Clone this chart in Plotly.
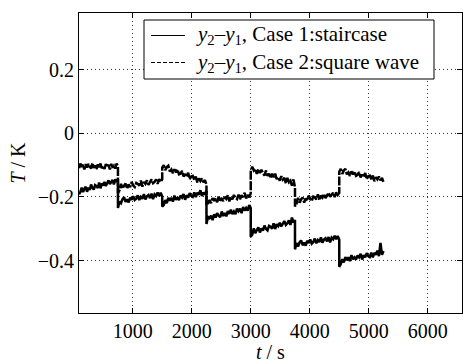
import numpy as np
import plotly.graph_objects as go

# segment boundaries (s)
seg_edges = [90, 750, 1500, 2250, 3000, 3750, 4500, 5250]

# Case 1: staircase (solid), per segment
stair_segments = [
    [-0.192, -0.185, -0.171, -0.185, -0.175, -0.168, -0.184, -0.171, -0.178, -0.161,
     -0.172, -0.177, -0.163, -0.166, -0.172, -0.155, -0.173, -0.158, -0.164, -0.153,
     -0.166, -0.155, -0.148, -0.160, -0.155, -0.147, -0.161, -0.145, -0.153, -0.145],
    [-0.235, -0.215, -0.220, -0.207, -0.201, -0.216, -0.208, -0.217, -0.202, -0.209,
     -0.198, -0.210, -0.206, -0.195, -0.210, -0.200, -0.206, -0.191, -0.208, -0.198,
     -0.194, -0.204, -0.190, -0.207, -0.192, -0.197, -0.186, -0.197, -0.187, -0.199],
    [-0.230, -0.226, -0.210, -0.220, -0.203, -0.212, -0.203, -0.215, -0.196, -0.209,
     -0.203, -0.210, -0.196, -0.202, -0.191, -0.209, -0.195, -0.202, -0.188, -0.197,
     -0.200, -0.186, -0.201, -0.187, -0.193, -0.179, -0.197, -0.186, -0.193, -0.181],
    [-0.285, -0.263, -0.267, -0.259, -0.273, -0.255, -0.265, -0.251, -0.259, -0.264,
     -0.246, -0.260, -0.251, -0.261, -0.245, -0.253, -0.240, -0.254, -0.246, -0.254,
     -0.237, -0.245, -0.237, -0.251, -0.232, -0.243, -0.235, -0.243, -0.226, -0.235],
    [-0.325, -0.319, -0.299, -0.314, -0.304, -0.296, -0.312, -0.299, -0.306, -0.290,
     -0.300, -0.305, -0.291, -0.294, -0.300, -0.283, -0.301, -0.286, -0.292, -0.281,
     -0.293, -0.283, -0.276, -0.288, -0.283, -0.274, -0.288, -0.265, -0.281, -0.273],
    [-0.365, -0.345, -0.356, -0.343, -0.337, -0.352, -0.344, -0.353, -0.338, -0.345,
     -0.334, -0.347, -0.342, -0.331, -0.346, -0.336, -0.342, -0.327, -0.344, -0.334,
     -0.330, -0.340, -0.326, -0.343, -0.328, -0.333, -0.322, -0.333, -0.323, -0.335],
    [-0.420, -0.411, -0.396, -0.406, -0.389, -0.399, -0.390, -0.402, -0.383, -0.396,
     -0.390, -0.397, -0.384, -0.390, -0.379, -0.397, -0.383, -0.390, -0.377, -0.386,
     -0.389, -0.375, -0.390, -0.376, -0.382, -0.369, -0.386, -0.345, -0.382, -0.370],
]

# Case 2: square wave (dashed)
square_segments = [
    [-0.110, -0.095, -0.106, -0.099, -0.114, -0.097, -0.108, -0.096, -0.105, -0.111,
     -0.094, -0.109, -0.101, -0.113, -0.098, -0.107, -0.095, -0.110, -0.103, -0.112,
     -0.097, -0.106, -0.099, -0.114, -0.096, -0.108, -0.102, -0.111, -0.095, -0.105],
    [-0.188, -0.179, -0.159, -0.174, -0.165, -0.158, -0.174, -0.161, -0.169, -0.153,
     -0.164, -0.169, -0.156, -0.159, -0.165, -0.149, -0.168, -0.153, -0.159, -0.148,
     -0.162, -0.152, -0.145, -0.157, -0.153, -0.145, -0.159, -0.144, -0.153, -0.145],
    [-0.108, -0.100, -0.116, -0.106, -0.102, -0.120, -0.114, -0.126, -0.113, -0.123,
     -0.114, -0.129, -0.127, -0.118, -0.136, -0.128, -0.137, -0.124, -0.144, -0.136,
     -0.134, -0.147, -0.136, -0.155, -0.142, -0.150, -0.142, -0.154, -0.147, -0.162],
    [-0.225, -0.221, -0.210, -0.220, -0.204, -0.213, -0.204, -0.217, -0.198, -0.212,
     -0.206, -0.213, -0.200, -0.206, -0.195, -0.214, -0.200, -0.208, -0.194, -0.203,
     -0.207, -0.193, -0.208, -0.195, -0.201, -0.187, -0.205, -0.194, -0.201, -0.189],
    [-0.118, -0.105, -0.117, -0.112, -0.128, -0.113, -0.125, -0.115, -0.125, -0.133,
     -0.117, -0.134, -0.127, -0.141, -0.127, -0.138, -0.127, -0.144, -0.138, -0.149,
     -0.135, -0.146, -0.140, -0.157, -0.140, -0.154, -0.149, -0.165, -0.145, -0.170],
    [-0.230, -0.222, -0.203, -0.218, -0.208, -0.202, -0.218, -0.205, -0.212, -0.196,
     -0.207, -0.213, -0.199, -0.202, -0.208, -0.192, -0.210, -0.196, -0.202, -0.191,
     -0.204, -0.194, -0.187, -0.200, -0.195, -0.187, -0.201, -0.186, -0.194, -0.187],
    [-0.121, -0.112, -0.128, -0.117, -0.112, -0.129, -0.123, -0.134, -0.120, -0.129,
     -0.120, -0.134, -0.131, -0.122, -0.139, -0.130, -0.138, -0.125, -0.144, -0.135,
     -0.133, -0.145, -0.133, -0.151, -0.138, -0.145, -0.136, -0.148, -0.140, -0.154],
]

x_ticks = [1000, 2000, 3000, 4000, 5000, 6000]
y_ticks = [-0.4, -0.2, 0, 0.2]

legend_labels = [
    "<i>y</i><sub>2</sub>–<i>y</i><sub>1</sub>, Case 1:staircase",
    "<i>y</i><sub>2</sub>–<i>y</i><sub>1</sub>, Case 2:square wave",
]
x_title = "<i>t</i> / s"
y_title = "<i>T</i> / K"


def build(segments):
    ts, vs = [], []
    for i, seg in enumerate(segments):
        s, e = seg_edges[i], seg_edges[i + 1]
        ts.extend(np.linspace(s, e, len(seg)).tolist())
        vs.extend(seg)
    return ts, vs


t1, v1 = build(stair_segments)
t2, v2 = build(square_segments)

FONT = "Liberation Serif, Times New Roman, serif"
DASH2 = "9px,1.5px"

fig = go.Figure()
fig.add_trace(go.Scatter(
    x=t1, y=v1, mode="lines",
    line=dict(color="black", width=2.5),
    name=legend_labels[0], showlegend=False,
))
fig.add_trace(go.Scatter(
    x=t2, y=v2, mode="lines",
    line=dict(color="black", width=2.5, dash=DASH2),
    name=legend_labels[1], showlegend=False,
))

axis_common = dict(
    showline=True, linecolor="black", linewidth=1, mirror="allticks",
    ticks="inside", ticklen=5, tickcolor="black",
    showgrid=True, gridcolor="#333333", gridwidth=1, griddash="1px,3px",
    zeroline=False,
    tickfont=dict(family=FONT, size=20, color="black"),
)

fig.update_xaxes(range=[90, 6580], tickvals=x_ticks, **axis_common)
fig.update_yaxes(
    range=[-0.565, 0.378], tickvals=y_ticks,
    title=dict(text=y_title, font=dict(family=FONT, size=20, color="black"), standoff=6),
    **axis_common,
)

# legend box drawn in paper coordinates
L, W, T, H = 79, 383, 13, 300
px = lambda x: (x - L) / W
py = lambda y: 1 - (y - T) / H

shapes = [
    dict(type="rect", xref="paper", yref="paper",
         x0=px(144), x1=px(434), y0=py(79), y1=py(20),
         line=dict(color="black", width=1), fillcolor="white", layer="above"),
]
rows = [35.5, 62.5]
dashes = ["solid", "4px,2px"]
annotations = []
for r, lab, d in zip(rows, legend_labels, dashes):
    shapes.append(dict(type="line", xref="paper", yref="paper",
                       x0=px(151), x1=px(185), y0=py(r), y1=py(r),
                       line=dict(color="black", width=1.2, dash=d), layer="above"))
    annotations.append(dict(xref="paper", yref="paper", x=px(194), y=py(r),
                            xanchor="left", yanchor="middle", showarrow=False,
                            text=lab, font=dict(family=FONT, size=21, color="black")))

# x-axis title placed just under the tick labels
annotations.append(dict(xref="paper", yref="paper", x=0.5, y=py(364),
                        xanchor="center", yanchor="bottom", showarrow=False,
                        borderpad=0, text=x_title,
                        font=dict(family=FONT, size=20, color="black")))

fig.update_layout(
    width=463, height=363,
    margin=dict(l=79, r=1, t=13, b=50),
    paper_bgcolor="white", plot_bgcolor="white",
    font=dict(family=FONT, size=20, color="black"),
    showlegend=False,
    shapes=shapes, annotations=annotations,
)

fig.write_html("out.html")
